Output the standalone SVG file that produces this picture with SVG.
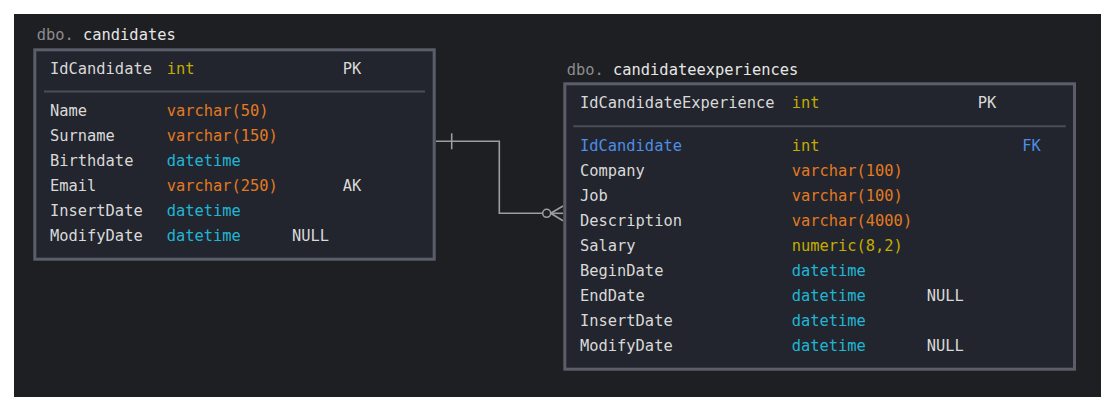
<svg xmlns="http://www.w3.org/2000/svg" width="1113" height="410" viewBox="0 0 1113 410">
<style>
text{font-family:"DejaVu Sans Mono","Liberation Mono",monospace;font-size:15.4px;fill:#d9d9d9}
.dbo{fill:#8c8c90}
.ttl{fill:#e6e6e6}
.int{fill:#c4ad00}
.vc{fill:#e27a22}
.dt{fill:#1fb6d6}
.fk{fill:#4d8ee6}
.box{fill:#22252d;stroke:#5b5e6a;stroke-width:3}
.div{stroke:#4b4e59;stroke-width:2}
.conn{fill:none;stroke:#9b9da4;stroke-width:1.6}
</style>
<rect x="0" y="0" width="1113" height="410" fill="#ffffff"/>
<rect x="14" y="14" width="1087" height="383" fill="#1e1f23"/>

<g id="connectors">
<polyline class="conn" points="436,141.3 499.3,141.3 499.3,213.3 542.7,213.3"/>
<line class="conn" x1="451.7" y1="133.3" x2="451.7" y2="149.3"/>
<circle class="conn" cx="546.7" cy="213.3" r="4"/>
<line class="conn" x1="550.7" y1="213.3" x2="563" y2="206"/>
<line class="conn" x1="550.7" y1="213.3" x2="563" y2="220.7"/>
<line class="conn" x1="550.7" y1="213.3" x2="563" y2="213.3"/>
</g>

<g id="candidates">
<text x="36.7" y="40"><tspan class="dbo">dbo.</tspan><tspan class="ttl"> candidates</tspan></text>
<rect class="box" x="34.8" y="49.8" width="399.4" height="209.4"/>
<line class="div" x1="44" y1="91.5" x2="425" y2="91.5"/>
<text x="50" y="74">IdCandidate</text><text class="int" x="166.7" y="74">int</text><text x="342.7" y="74">PK</text>
<text x="50" y="116">Name</text><text class="vc" x="166.7" y="116">varchar(50)</text>
<text x="50" y="141">Surname</text><text class="vc" x="166.7" y="141">varchar(150)</text>
<text x="50" y="166">Birthdate</text><text class="dt" x="166.7" y="166">datetime</text>
<text x="50" y="191">Email</text><text class="vc" x="166.7" y="191">varchar(250)</text><text x="342.7" y="191">AK</text>
<text x="50" y="216">InsertDate</text><text class="dt" x="166.7" y="216">datetime</text>
<text x="50" y="241">ModifyDate</text><text class="dt" x="166.7" y="241">datetime</text><text x="292" y="241">NULL</text>
</g>

<g id="candidateexperiences">
<text x="566.7" y="75"><tspan class="dbo">dbo.</tspan><tspan class="ttl"> candidateexperiences</tspan></text>
<rect class="box" x="564.8" y="83.8" width="509.7" height="285.4"/>
<line class="div" x1="573.3" y1="126.3" x2="1065.7" y2="126.3"/>
<text x="580" y="108">IdCandidateExperience</text><text class="int" x="791.7" y="108">int</text><text x="977.7" y="108">PK</text>
<text class="fk" x="580" y="151">IdCandidate</text><text class="int" x="791.7" y="151">int</text><text class="fk" x="1022.3" y="151">FK</text>
<text x="580" y="176">Company</text><text class="vc" x="791.7" y="176">varchar(100)</text>
<text x="580" y="201">Job</text><text class="vc" x="791.7" y="201">varchar(100)</text>
<text x="580" y="226">Description</text><text class="vc" x="791.7" y="226">varchar(4000)</text>
<text x="580" y="251">Salary</text><text class="int" x="791.7" y="251">numeric(8,2)</text>
<text x="580" y="276">BeginDate</text><text class="dt" x="791.7" y="276">datetime</text>
<text x="580" y="301">EndDate</text><text class="dt" x="791.7" y="301">datetime</text><text x="926.7" y="301">NULL</text>
<text x="580" y="326">InsertDate</text><text class="dt" x="791.7" y="326">datetime</text>
<text x="580" y="351">ModifyDate</text><text class="dt" x="791.7" y="351">datetime</text><text x="926.7" y="351">NULL</text>
</g>
</svg>
